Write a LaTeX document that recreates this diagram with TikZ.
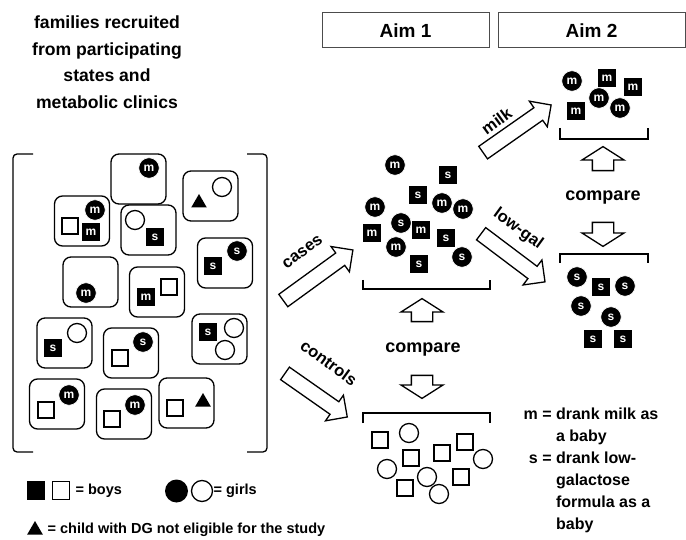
\documentclass[tikz,border=0pt]{standalone}
\usepackage{fontspec}
\setmainfont{Liberation Sans}
\usetikzlibrary{shapes.geometric,shapes.arrows}

\begin{document}
\begin{tikzpicture}[x=1pt, y=-1pt, line width=1.3pt,
    girl/.style={circle, fill=black, draw=white, line width=0.6pt, minimum size=20.5pt, inner sep=0pt,
      text=white, font=\bfseries\fontsize{12}{12}\selectfont},
    boy/.style={rectangle, fill=black, draw=white, line width=0.6pt, minimum size=18.5pt, inner sep=0pt,
      text=white, font=\bfseries\fontsize{12}{12}\selectfont},
    girlopen/.style={circle, draw, fill=white, line width=1.3pt, minimum size=19pt, inner sep=0pt},
    boyopen/.style={rectangle, draw, fill=white, line width=1.3pt, minimum size=16pt, inner sep=0pt},
    dgchild/.style={regular polygon, regular polygon sides=3, fill=black, minimum size=18pt, inner sep=0pt},
    family/.style={draw, rounded corners=8pt, line width=1.3pt, minimum width=55pt, minimum height=50pt},
    aimbox/.style={draw=black!70, line width=1pt, minimum height=35pt, font=\bfseries\fontsize{19}{19}\selectfont},
    blockarrow/.style={single arrow, draw, fill=white, line width=1.3pt, inner xsep=0pt, inner ysep=7pt,
      single arrow head extend=8pt, single arrow tip angle=90},
    cmparrow/.style={single arrow, draw, fill=white, line width=1.3pt, inner xsep=0pt, inner ysep=10pt,
      single arrow head extend=10.5pt, single arrow tip angle=115},
    armlbl/.style={font=\bfseries\fontsize{16.5}{18}\selectfont},
    cmplbl/.style={font=\bfseries\fontsize{18}{20}\selectfont},
    keytext/.style={font=\bfseries\fontsize{14.5}{16}\selectfont, anchor=west, inner sep=0pt}]
  \useasboundingbox (0,0) rectangle (686,540);

  % --- heading on the left and the two aims ---
  \node[align=center, font=\bfseries\fontsize{17.6}{26.5}\selectfont] (title) at (107,62)
    {families recruited\\from participating\\states and\\metabolic clinics};
  \node[aimbox, minimum width=167pt] (aim1) at (405.5,30.5) {Aim 1};
  \node[aimbox, minimum width=187pt] (aim2) at (591.5,30.5) {Aim 2};

  % --- big bracket holding the families ---
  \draw[rounded corners=4pt] (33,154) -- (13,154) -- (13,452) -- (33,452);
  \draw[rounded corners=4pt] (247,154) -- (267,154) -- (267,452) -- (247,452);

  % families
  \foreach \n/\x/\y in {1/138.5/179, 2/210.5/196, 3/82/221, 4/148.5/230, 5/225/263,
      6/90.5/282, 7/157/292, 8/64.5/343, 9/131/353, 10/219.5/339, 11/57/404,
      12/124/414, 13/186.5/403}
    \node[family] (fam\n) at (\x,\y) {};

  % children in the families
  \foreach \s/\x/\y/\l [count=\i] in {girl/149/168/m, girl/95/210/m, boy/91/232/m,
      boy/155/237/s, boy/213/266/s, girl/237/251/s, girl/86/293/m, boy/146/297/m,
      boy/53/348/s, girl/143/342/s, boy/208/332/s, girl/69/395/m, girl/135/405/m}
    \node[\s] (kid\i) at (\x,\y) {\l};
  \foreach \s/\x/\y [count=\i] in {girlopen/222/187, boyopen/70/226, girlopen/135/220,
      boyopen/169/287, girlopen/77/333, boyopen/120/358, girlopen/234/328,
      girlopen/225/350, boyopen/46/410, boyopen/112/419, boyopen/175/408}
    \node[\s] (kidopen\i) at (\x,\y) {};
  \node[dgchild] (dg1) at (199,203) {};
  \node[dgchild] (dg2) at (203,402) {};

  % --- cases and controls ---
  \node[blockarrow, minimum height=86pt, rotate=36] (casesarr) at (315,277.5) {};
  \node[armlbl, rotate=36] (caseslbl) at (302.5,252) {cases};
  \node[blockarrow, minimum height=76pt, rotate=-35] (ctrlarr) at (313,393) {};
  \node[armlbl, rotate=-36] (ctrllbl) at (329,362.5) {controls};

  \foreach \s/\x/\y/\l [count=\i] in {girl/395/165/m, boy/448/175/s, boy/418/195/s,
      girl/375/207/m, girl/442/203/m, girl/463/209/m, girl/401/223/s, boy/421/230/m,
      boy/372/233/m, boy/446/238/s, girl/396/247/m, boy/419/264/s, girl/462/257/s}
    \node[\s] (case\i) at (\x,\y) {\l};
  \draw (363,280) -- (363,289) -- (490,289) -- (490,280);

  \node[cmparrow, minimum height=23pt, rotate=90] (cmpup1) at (422,313.5) {};
  \node[cmplbl] (cmp1) at (423,350) {compare};
  \node[cmparrow, minimum height=23pt, rotate=-90] (cmpdown1) at (422,383.5) {};

  \draw (363,423) -- (363,413) -- (490,413) -- (490,423);
  \foreach \s/\x/\y [count=\i] in {boyopen/380/440, girlopen/409/433, boyopen/465/442,
      boyopen/442/453, boyopen/411/458, girlopen/483/459, girlopen/387/469,
      girlopen/427/477, boyopen/461/477, boyopen/405/488, girlopen/439/494}
    \node[\s] (ctrl\i) at (\x,\y) {};

  % --- milk vs low-galactose ---
  \node[blockarrow, minimum height=83pt, rotate=35] (milkarr) at (514,131) {};
  \node[armlbl, rotate=36] (milklbl) at (496.5,121) {milk};
  \node[blockarrow, minimum height=80pt, rotate=-37] (lowgalarr) at (510,255.5) {};
  \node[armlbl, rotate=-36] (lowgallbl) at (518,229) {low-gal};

  \foreach \s/\x/\y [count=\i] in {girl/572/81, boy/607/78, boy/633/87, girl/599/98,
      boy/576/111, girl/620/108}
    \node[\s] (milk\i) at (\x,\y) {m};
  \draw (560,128) -- (560,139) -- (648,139) -- (648,128);

  \node[cmparrow, minimum height=24pt, rotate=90] (cmpup2) at (603,162) {};
  \node[cmplbl] (cmp2) at (603,198) {compare};
  \node[cmparrow, minimum height=24pt, rotate=-90] (cmpdown2) at (603,231) {};

  \draw (560,263) -- (560,254) -- (648,254) -- (648,263);
  \foreach \s/\x/\y [count=\i] in {girl/577/277, boy/601/287, girl/625/286, girl/581/306,
      girl/611/317, boy/593/339, boy/623/339}
    \node[\s] (lowgal\i) at (\x,\y) {s};

  % --- keys ---
  \node[anchor=north west, inner sep=0pt, font=\bfseries\fontsize{16}{22}\selectfont] (feedkey) at (523,403)
    {\begin{tabular}{@{}r@{\ }l@{}}
      m = & drank milk as\\ & a baby\\
      s = & drank low-\\ & galactose\\ & formula as a\\ & baby
    \end{tabular}};

  \node[rectangle, fill=black, minimum width=18pt, minimum height=19pt, inner sep=0pt] (keyboy) at (36,490.5) {};
  \node[boyopen, minimum size=17.5pt] (keyboyopen) at (61,490.5) {};
  \node[keytext] (boystext) at (75,491) {= boys};
  \node[circle, fill=black, minimum size=23pt, inner sep=0pt] (keygirl) at (176.5,491) {};
  \node[girlopen, minimum size=21pt] (keygirlopen) at (202,491) {};
  \node[keytext] (girlstext) at (213,491) {= girls};
  \node[dgchild] (keydg) at (35,530) {};
  \node[keytext] (dgtext) at (47,530) {= child with DG not eligible for the study};
\end{tikzpicture}
\end{document}
